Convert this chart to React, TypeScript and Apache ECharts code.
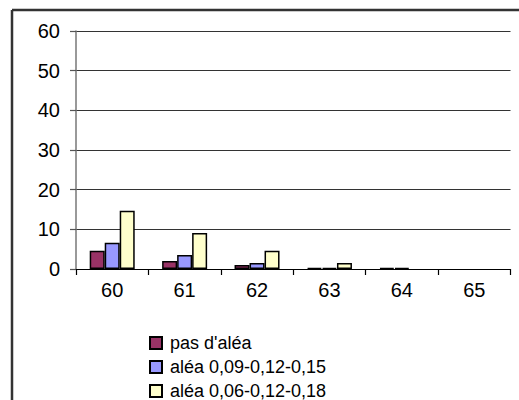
import React, { useEffect, useRef } from "react";
import * as echarts from "echarts";

// Categories along the x axis
const categories = ["60", "61", "62", "63", "64", "65"];

// Series names
const seriesNames = [
  "pas d'aléa",
  "aléa 0,09-0,12-0,15",
  "aléa 0,06-0,12-0,18",
];

// Series values
const pasAlea = [4.6, 2.0, 1.0, 0.3, 0.3, 0];
const alea091215 = [6.6, 3.5, 1.5, 0.3, 0.3, 0];
const alea061218 = [14.7, 9.1, 4.6, 1.5, 0, 0];

const seriesColors = ["#993366", "#9999FF", "#FFFFCC"];

const FONT = "'Liberation Sans', Arial, sans-serif";

export default function App() {
  const ref = useRef<HTMLDivElement>(null);

  useEffect(() => {
    if (!ref.current) return;
    const chart = echarts.init(ref.current, undefined, { renderer: "svg" });
    const values = [pasAlea, alea091215, alea061218];

    chart.setOption({
      animation: false,
      backgroundColor: "#ffffff",
      textStyle: { fontFamily: FONT, color: "#000" },
      graphic: [
        {
          type: "line",
          z: 100,
          shape: { x1: 12, y1: 10, x2: 519, y2: 10 },
          style: { stroke: "#333", lineWidth: 2.5 },
          silent: true,
        },
        {
          type: "line",
          z: 100,
          shape: { x1: 12, y1: 10, x2: 12, y2: 400 },
          style: { stroke: "#333", lineWidth: 2.5 },
          silent: true,
        },
      ],
      grid: { left: 76, right: 8.5, top: 31, bottom: 131, containLabel: false },
      legend: {
        orient: "vertical",
        left: 149,
        top: 334,
        padding: 0,
        itemWidth: 12,
        itemHeight: 12,
        itemGap: 6,
        icon: "rect",
        data: seriesNames,
        textStyle: {
          fontFamily: FONT,
          fontSize: 18,
          lineHeight: 17,
          color: "#000",
          padding: [0, 0, 0, 3],
        },
      },
      xAxis: {
        type: "category",
        data: categories,
        boundaryGap: true,
        axisLine: { show: true, lineStyle: { color: "#000", width: 1.2 } },
        axisTick: {
          show: true,
          alignWithLabel: false,
          length: 6,
          lineStyle: { color: "#000", width: 1.2 },
        },
        axisLabel: {
          fontFamily: FONT,
          fontSize: 20,
          color: "#000",
          margin: 11,
        },
      },
      yAxis: {
        type: "value",
        min: 0,
        max: 60,
        interval: 10,
        axisLine: { show: true, lineStyle: { color: "#777", width: 1.5 } },
        axisTick: {
          show: true,
          length: 6,
          lineStyle: { color: "#555", width: 1.2 },
        },
        splitLine: { show: true, lineStyle: { color: "#333", width: 1 } },
        axisLabel: {
          fontFamily: FONT,
          fontSize: 20,
          color: "#000",
          margin: 16,
        },
      },
      series: seriesNames.map((name, i) => ({
        name,
        type: "bar",
        // zero-height bars draw no outline
        data: values[i].map((v) =>
          v === 0 ? { value: v, itemStyle: { borderWidth: 0 } } : v
        ),
        barWidth: 15,
        barGap: "0%",
        itemStyle: {
          color: seriesColors[i],
          borderColor: "#000",
          borderWidth: 1.5,
        },
      })),
    });

    return () => chart.dispose();
  }, []);

  return (
    <div
      ref={ref}
      style={{
        position: "fixed",
        left: 0,
        top: 0,
        width: 519,
        height: 400,
        background: "#fff",
      }}
    />
  );
}
